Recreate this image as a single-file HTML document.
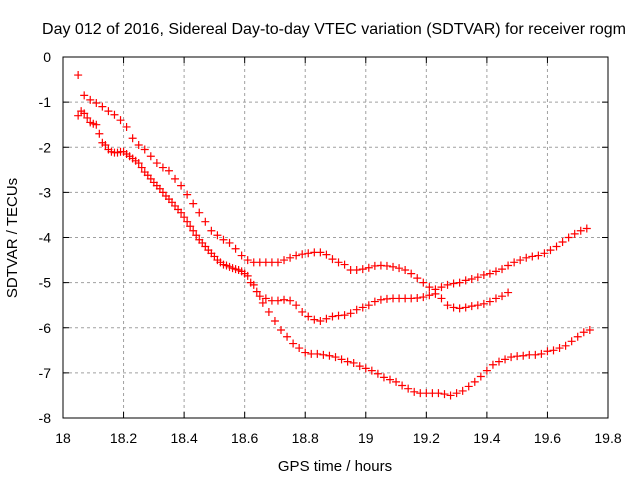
<!DOCTYPE html>
<html><head><meta charset="utf-8"><style>
body{margin:0;background:#fff}
svg{display:block;font-family:"Liberation Sans",sans-serif}
</style></head><body>
<svg id="chart" width="640" height="480" viewBox="0 0 640 480">
<text x="334" y="34" font-size="16" text-anchor="middle">Day 012 of 2016, Sidereal Day-to-day VTEC variation (SDTVAR) for receiver rogm</text>
<text x="335" y="471" font-size="15" text-anchor="middle">GPS time / hours</text>
<text transform="translate(17,238) rotate(-90)" font-size="15" text-anchor="middle">SDTVAR / TECUs</text>
<g id="grid"></g>
<g id="axes"></g>
<g id="marks"></g>
</svg>
<script>
const xTicks=[18,18.2,18.4,18.6,18.8,19,19.2,19.4,19.6,19.8];
const xTickLabels=["18","18.2","18.4","18.6","18.8","19","19.2","19.4","19.6","19.8"];
const yTicks=[0,-1,-2,-3,-4,-5,-6,-7,-8];
const yTickLabels=["0","-1","-2","-3","-4","-5","-6","-7","-8"];
const seriesAStart=18.05, seriesAStep=0.02;
const seriesA=[-0.40,-0.85,-0.95,-1.02,-1.10,-1.20,-1.28,-1.40,-1.55,-1.80,-1.95,-2.05,-2.20,-2.35,-2.45,-2.52,-2.70,-2.85,-3.05,-3.25,-3.45,-3.65,-3.85,-3.95,-4.05,-4.12,-4.25,-4.40,-4.50,-4.55,-4.55,-4.55,-4.55,-4.55,-4.50,-4.45,-4.40,-4.37,-4.35,-4.33,-4.33,-4.38,-4.48,-4.55,-4.60,-4.72,-4.72,-4.70,-4.67,-4.63,-4.62,-4.63,-4.65,-4.68,-4.72,-4.80,-4.90,-5.00,-5.10,-5.25,-5.35,-5.50,-5.55,-5.57,-5.55,-5.52,-5.50,-5.47,-5.42,-5.35,-5.30,-5.22];
const seriesBStart=18.05, seriesBStep=0.02;
const seriesB=[-1.30,-1.25,-1.45,-1.50,-1.90,-2.05,-2.12,-2.10,-2.15,-2.25,-2.35,-2.55,-2.70,-2.85,-3.00,-3.15,-3.30,-3.45,-3.65,-3.85,-4.05,-4.20,-4.35,-4.50,-4.60,-4.65,-4.70,-4.75,-4.85,-5.05,-5.30,-5.35,-5.40,-5.40,-5.38,-5.40,-5.50,-5.65,-5.75,-5.82,-5.85,-5.80,-5.75,-5.73,-5.72,-5.68,-5.60,-5.55,-5.50,-5.42,-5.38,-5.36,-5.35,-5.35,-5.35,-5.35,-5.34,-5.32,-5.28,-5.15,-5.10,-5.05,-5.02,-5.00,-4.95,-4.92,-4.88,-4.83,-4.80,-4.75,-4.70,-4.62,-4.55,-4.50,-4.45,-4.42,-4.40,-4.35,-4.28,-4.20,-4.10,-4.00,-3.92,-3.85,-3.80];
const seriesCStart=18.06, seriesCStep=0.02;
const seriesC=[-1.20,-1.35,-1.48,-1.70,-1.95,-2.10,-2.12,-2.10,-2.20,-2.30,-2.45,-2.62,-2.78,-2.92,-3.08,-3.22,-3.38,-3.55,-3.75,-3.95,-4.12,-4.28,-4.42,-4.55,-4.62,-4.68,-4.72,-4.80,-5.00,-5.20,-5.45,-5.65,-5.85,-6.05,-6.20,-6.35,-6.45,-6.55,-6.58,-6.58,-6.60,-6.62,-6.65,-6.70,-6.75,-6.78,-6.85,-6.90,-6.95,-7.02,-7.10,-7.15,-7.20,-7.28,-7.35,-7.42,-7.45,-7.45,-7.45,-7.45,-7.47,-7.50,-7.45,-7.40,-7.30,-7.20,-7.08,-6.95,-6.82,-6.75,-6.70,-6.65,-6.63,-6.62,-6.60,-6.60,-6.58,-6.52,-6.50,-6.45,-6.40,-6.30,-6.20,-6.10,-6.05];

const L=63,R=608,T=57,B=418;
const X=v=>L+(v-18)/1.8*(R-L);
const Y=v=>T+(0-v)/8*(B-T);
const NS="http://www.w3.org/2000/svg";
function mk(tag,attrs,parent){const e=document.createElementNS(NS,tag);for(const k in attrs)e.setAttribute(k,attrs[k]);parent.appendChild(e);return e;}
const grid=document.getElementById('grid'),axes=document.getElementById('axes'),marks=document.getElementById('marks');
xTicks.forEach((t,i)=>{
  const x=X(t);
  if(i>0&&i<xTicks.length-1){const g=mk('line',{x1:x,x2:x,y1:T,y2:B,stroke:'#a0a0a0','stroke-dasharray':'3,3'},grid);
  
  }
  mk('line',{x1:x,x2:x,y1:B,y2:B-6,stroke:'#000'},axes);
  mk('line',{x1:x,x2:x,y1:T,y2:T+6,stroke:'#000'},axes);
  const tx=mk('text',{x:x,y:B+25,'font-size':14,'text-anchor':'middle'},axes);
  tx.textContent=xTickLabels[i];
  
  
});
yTicks.forEach((t,i)=>{
  const y=Y(t);
  if(i>0&&i<yTicks.length-1){const g=mk('line',{x1:L,x2:R,y1:y,y2:y,stroke:'#a0a0a0','stroke-dasharray':'3,3'},grid);
  
  }
  mk('line',{x1:L,x2:L+6,y1:y,y2:y,stroke:'#000'},axes);
  mk('line',{x1:R,x2:R-6,y1:y,y2:y,stroke:'#000'},axes);
  const tx=mk('text',{x:L-12,y:y+5,'font-size':14,'text-anchor':'end'},axes);
  tx.textContent=yTickLabels[i];
  
  
});
const frame=mk('rect',{x:L,y:T,width:R-L,height:B-T,fill:'none',stroke:'#000'},axes);


function drawSeries(vals,start,step,name){
  const g=mk('g',{stroke:'#ff0000','stroke-width':1.2},marks);
  
  
  let d='';
  vals.forEach((v,i)=>{const x=X(start+i*step),y=Y(v);d+=`M${x-4},${y}h8M${x},${y-4}v8`;});
  const p=mk('path',{d:d,fill:'none'},g);
  
  
}
drawSeries(seriesA,seriesAStart,seriesAStep,'series-a');
drawSeries(seriesB,seriesBStart,seriesBStep,'series-b');
drawSeries(seriesC,seriesCStart,seriesCStep,'series-c');
</script>
</body></html>
